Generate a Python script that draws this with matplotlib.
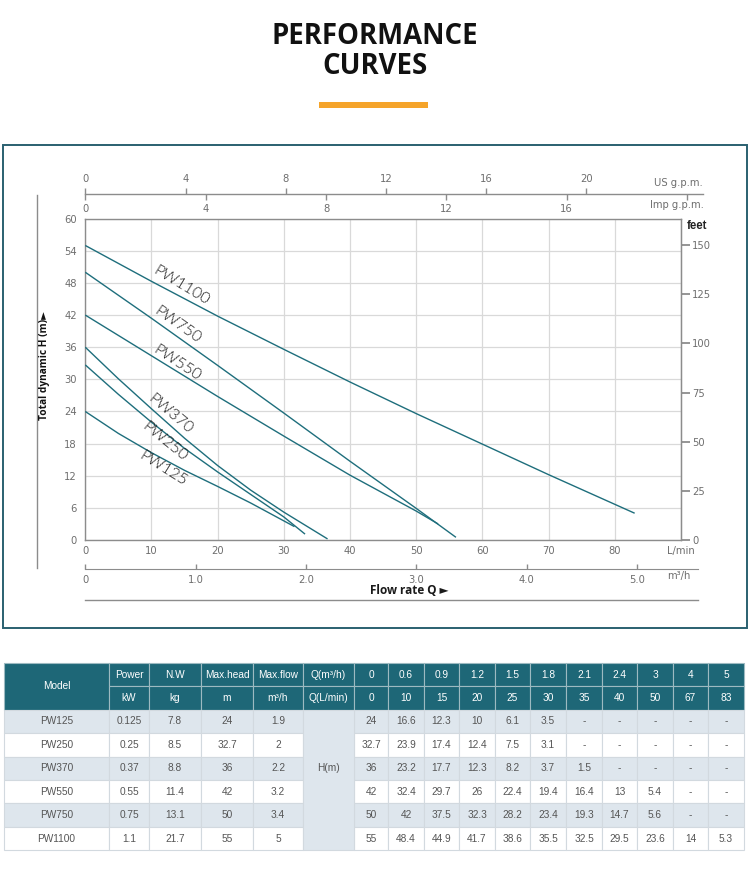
import matplotlib
matplotlib.use("Agg")
import matplotlib.pyplot as plt
from matplotlib.patches import Rectangle
from matplotlib import font_manager

# ---------------- data ----------------
models = ["PW125", "PW250", "PW370", "PW550", "PW750", "PW1100"]
power_kw = ["0.125", "0.25", "0.37", "0.55", "0.75", "1.1"]
net_weight = ["7.8", "8.5", "8.8", "11.4", "13.1", "21.7"]
max_head = ["24", "32.7", "36", "42", "50", "55"]
max_flow = ["1.9", "2", "2.2", "3.2", "3.4", "5"]
q_m3h = ["0", "0.6", "0.9", "1.2", "1.5", "1.8", "2.1", "2.4", "3", "4", "5"]
q_lmin = ["0", "10", "15", "20", "25", "30", "35", "40", "50", "67", "83"]
head_table = [
    ["24", "16.6", "12.3", "10", "6.1", "3.5", "-", "-", "-", "-", "-"],
    ["32.7", "23.9", "17.4", "12.4", "7.5", "3.1", "-", "-", "-", "-", "-"],
    ["36", "23.2", "17.7", "12.3", "8.2", "3.7", "1.5", "-", "-", "-", "-"],
    ["42", "32.4", "29.7", "26", "22.4", "19.4", "16.4", "13", "5.4", "-", "-"],
    ["50", "42", "37.5", "32.3", "28.2", "23.4", "19.3", "14.7", "5.6", "-", "-"],
    ["55", "48.4", "44.9", "41.7", "38.6", "35.5", "32.5", "29.5", "23.6", "14", "5.3"],
]

# performance curves (flow L/min, head m)
pw125_q = [0, 5, 10, 15, 20, 25, 31.6]
pw125_h = [24, 19.9, 16.3, 13.0, 10.0, 6.9, 2.5]
pw250_q = [0, 5, 10, 15, 20, 25, 30, 33.2]
pw250_h = [32.7, 27.2, 22.0, 17.1, 12.7, 8.5, 4.3, 1.1]
pw370_q = [0, 5, 10, 15, 20, 25, 30, 36.6]
pw370_h = [36, 30.1, 24.5, 19.0, 13.9, 9.3, 5.2, 0.2]
pw550_q = [0, 10, 20, 30, 40, 50, 53.3]
pw550_h = [42, 34.4, 26.8, 19.4, 12.1, 5.4, 3.0]
pw750_q = [0, 10, 20, 30, 40, 50, 56]
pw750_h = [50, 41.4, 32.6, 23.7, 14.7, 5.9, 0.5]
pw1100_q = [0, 10, 20, 30, 40, 50, 60, 70, 83]
pw1100_h = [55, 48.3, 41.8, 35.6, 29.5, 23.6, 17.9, 12.2, 5.0]

curves = [
    ("PW1100", pw1100_q, pw1100_h),
    ("PW750", pw750_q, pw750_h),
    ("PW550", pw550_q, pw550_h),
    ("PW370", pw370_q, pw370_h),
    ("PW250", pw250_q, pw250_h),
    ("PW125", pw125_q, pw125_h),
]

# axis scales
lmin_ticks = [0, 10, 20, 30, 40, 50, 60, 70, 80]
head_ticks = [0, 6, 12, 18, 24, 30, 36, 42, 48, 54, 60]
feet_ticks = [0, 25, 50, 75, 100, 125, 150]
feet_top = 163.5          # feet value at the 60 m line, as drawn
us_ticks = [0, 4, 8, 12, 16, 20]
imp_ticks = [0, 4, 8, 12, 16, 20]
m3h_ticks = [0, 1, 2, 3, 4, 5]
m3h_labels = ["0", "1.0", "2.0", "3.0", "4.0", "5.0"]
LMIN_PER_USGPM = 3.785
LMIN_PER_IMPGPM = 4.546
LMIN_PER_M3H = 16.667

# ---------------- fonts ----------------
avail = {f.name for f in font_manager.fontManager.ttflist}
def pick(*names):
    for n in names:
        if n in avail:
            return n
    return "DejaVu Sans"

NARROW = pick("Liberation Sans Narrow", "Open Sans", "Roboto", "Liberation Sans")
ARIAL = pick("Liberation Sans", "Arimo", "DejaVu Sans")
THIN = pick("Lato", "Roboto", "Open Sans", "DejaVu Sans")
TICKF = "DejaVu Sans"

# ---------------- layout (pixels) ----------------
W, H = 750, 882
fig = plt.figure(figsize=(W / 100, H / 100), dpi=100)
fig.patch.set_facecolor("white")

def fx(x):
    return x / W

def fy(y):
    return 1 - y / H

bg = fig.add_axes([0, 0, 1, 1])
bg.set_xlim(0, W)
bg.set_ylim(H, 0)
bg.axis("off")

GREY = "#8C8C8C"
TXT = "#6E6E6E"

# title
title_size = 22 if NARROW == "Liberation Sans Narrow" else 19.8
bg.text(375, 37, "PERFORMANCE", ha="center", va="center", fontsize=title_size,
        fontweight="bold", family=[NARROW, "DejaVu Sans"], color="#111111")
bg.text(375, 66, "CURVES", ha="center", va="center", fontsize=title_size,
        fontweight="bold", family=[NARROW, "DejaVu Sans"], color="#111111")
bg.add_patch(Rectangle((319, 102), 109, 6, color="#F5A42A", lw=0))

# chart frame
bg.add_patch(Rectangle((3, 145), 744, 483, fill=False, edgecolor="#2A6070", lw=1.4))

# main plot area
X0, X1, YT, YB = 85.3, 681.0, 218.7, 540.0
ax = fig.add_axes([fx(X0), fy(YB), (X1 - X0) / W, (YB - YT) / H])
ax.set_xlim(0, 90)
ax.set_ylim(0, 60)
ax.set_xticks(lmin_ticks + [90])
ax.set_xticklabels([str(t) for t in lmin_ticks] + ["L/min"])
ax.set_yticks(head_ticks)
ax.set_yticklabels([str(t) for t in head_ticks])
ax.grid(True, color="#D9D9D9", lw=0.9)
ax.set_axisbelow(True)
for s in ax.spines.values():
    s.set_color(GREY)
    s.set_linewidth(1.0)
ax.tick_params(axis="both", length=0, labelsize=7.2, labelcolor=TXT)
ax.tick_params(axis="y", pad=6)
ax.tick_params(axis="x", pad=4)
for lab in ax.get_xticklabels() + ax.get_yticklabels():
    lab.set_family(TICKF)

for name, q, h in curves:
    ax.plot(q, h, color="#1E6E7C", lw=1.0, solid_capstyle="butt", zorder=3)

label_pos = {
    "PW1100": (14.5, 47.4, -31),
    "PW750": (13.9, 40.1, -35),
    "PW550": (13.8, 33.0, -33),
    "PW370": (12.9, 23.5, -40),
    "PW250": (12.0, 18.4, -39),
    "PW125": (11.8, 13.3, -32),
}
lab_font = THIN if THIN != "DejaVu Sans" else "DejaVu Sans"
lab_size = 11.5 if THIN == "Lato" else 10.5
for name, q, h in curves:
    lx, ly, rot = label_pos[name]
    ax.text(lx, ly, name, rotation=rot, ha="center", va="center",
            fontsize=lab_size, family=lab_font, fontweight=300, color="#1c1c1c",
            rotation_mode="anchor", zorder=4)

# feet axis on the right
ax2 = ax.twinx()
ax2.set_ylim(0, feet_top)
ax2.set_yticks(feet_ticks)
ax2.set_yticklabels([str(t) for t in feet_ticks])
for k in ["left", "top", "bottom"]:
    ax2.spines[k].set_visible(False)
ax2.spines["right"].set_color(GREY)
ax2.tick_params(axis="y", direction="out", length=6.5, width=1.3, color=GREY,
                labelsize=7.2, labelcolor=TXT, pad=1.5)
bg.text(697, 226, "feet", ha="center", va="center", fontsize=8.3, fontweight="bold",
        family=[ARIAL], color="#222222")

# top scales: US g.p.m. (ticks up) / Imp g.p.m. (ticks down)
XT_END = 703.0
lmin_top = (XT_END - X0) / (X1 - X0) * 90
ax_us = fig.add_axes([fx(X0), fy(194), (XT_END - X0) / W, 1e-5])
ax_us.set_xlim(0, lmin_top / LMIN_PER_USGPM)
ax_us.patch.set_visible(False)
for k in ["left", "right", "bottom"]:
    ax_us.spines[k].set_visible(False)
ax_us.spines["top"].set_color(GREY)
ax_us.spines["top"].set_linewidth(1.0)
ax_us.set_yticks([])
ax_us.xaxis.set_ticks_position("top")
ax_us.set_xticks(us_ticks)
ax_us.set_xticklabels([str(t) for t in us_ticks])
ax_us.tick_params(axis="x", direction="out", length=4, width=1.0, color=GREY,
                  labelsize=7.2, labelcolor=TXT, pad=3)

ax_imp = fig.add_axes([fx(X0), fy(194), (XT_END - X0) / W, 1e-5])
ax_imp.set_xlim(0, lmin_top / LMIN_PER_IMPGPM)
ax_imp.patch.set_visible(False)
for s in ax_imp.spines.values():
    s.set_visible(False)
ax_imp.set_yticks([])
ax_imp.set_xticks(imp_ticks)
ax_imp.set_xticklabels([str(t) for t in imp_ticks[:-1]] + [""])
ax_imp.tick_params(axis="x", direction="out", length=4, width=1.0, color=GREY,
                   labelsize=7.2, labelcolor=TXT, pad=3)
bg.text(703, 183, "US g.p.m.", ha="right", va="center", fontsize=7.2,
        family=TICKF, color=TXT)
bg.text(704, 205.5, "Imp g.p.m.", ha="right", va="center", fontsize=7.2,
        family=TICKF, color=TXT)

# bottom m3/h scale
XB_END = 698.0
lmin_bot = (XB_END - X0) / (X1 - X0) * 90
ax_m3 = fig.add_axes([fx(X0), fy(569), (XB_END - X0) / W, 1e-5])
ax_m3.set_xlim(0, lmin_bot / LMIN_PER_M3H)
ax_m3.patch.set_visible(False)
for k in ["left", "right", "top"]:
    ax_m3.spines[k].set_visible(False)
ax_m3.spines["bottom"].set_color(GREY)
ax_m3.set_yticks([])
ax_m3.set_xticks(m3h_ticks)
ax_m3.set_xticklabels(m3h_labels)
ax_m3.tick_params(axis="x", direction="in", length=3.5, width=1.0, color=GREY,
                  labelsize=7.2, labelcolor=TXT, pad=4)
for lab in ax_m3.get_xticklabels() + ax_us.get_xticklabels() + ax_imp.get_xticklabels() \
        + ax2.get_yticklabels():
    lab.set_family(TICKF)
bg.text(679, 576, "m\u00b3/h", ha="center", va="center", fontsize=7.2,
        family=TICKF, color=TXT)

# extra lines
bg.plot([X0, XB_END], [600, 600], color=GREY, lw=1.0)
bg.plot([37, 37], [195, 568], color=GREY, lw=1.0)

# axis titles
bg.text(45, 366, "Total dynamic H (m)\u25ba", rotation=90, ha="center", va="center",
        fontsize=7.3, fontweight="bold", family=[NARROW, "DejaVu Sans"], color="#111111")
bg.text(409, 591, "Flow rate Q \u25ba", ha="center", va="center",
        fontsize=8.5, fontweight="bold", family=[NARROW, "DejaVu Sans"], color="#1a1a1a")

# ---------------- table ----------------
col_edges = [4, 109, 149, 201, 253, 303, 354, 388, 424, 459, 495, 530, 566, 602, 637, 673, 708, 744]
row_top = 663.0
row_h = 23.4
HDR = "#1E6777"
HDR_LINE = "#9DBAC1"
LIGHT = "#DEE6ED"
LINE = "#D2D9DF"
BODY_TXT = "#555555"
FS = 7.3

def cell(c0, c1, r0, r1, text, face, edge, color, lw=0.8):
    x0 = col_edges[c0]
    x1 = col_edges[c1]
    y0 = row_top + r0 * row_h
    y1 = row_top + r1 * row_h
    bg.add_patch(Rectangle((x0, y0), x1 - x0, y1 - y0, facecolor=face,
                           edgecolor=edge, lw=lw))
    if text:
        bg.text((x0 + x1) / 2, (y0 + y1) / 2, text, ha="center", va="center",
                fontsize=FS, family=[ARIAL, "DejaVu Sans"], color=color)

# header
cell(0, 1, 0, 2, "Model", HDR, HDR_LINE, "white")
hdr1 = ["Power", "N.W", "Max.head", "Max.flow", "Q(m\u00b3/h)"]
hdr2 = ["kW", "kg", "m", "m\u00b3/h", "Q(L/min)"]
for i, (a, b) in enumerate(zip(hdr1, hdr2)):
    cell(1 + i, 2 + i, 0, 1, a, HDR, HDR_LINE, "white")
    cell(1 + i, 2 + i, 1, 2, b, HDR, HDR_LINE, "white")
for j, (a, b) in enumerate(zip(q_m3h, q_lmin)):
    cell(6 + j, 7 + j, 0, 1, a, HDR, HDR_LINE, "white")
    cell(6 + j, 7 + j, 1, 2, b, HDR, HDR_LINE, "white")

# body
for r in range(len(models)):
    face = LIGHT if r % 2 == 0 else "white"
    rr = 2 + r
    vals = [models[r], power_kw[r], net_weight[r], max_head[r], max_flow[r]]
    for c, v in enumerate(vals):
        cell(c, c + 1, rr, rr + 1, v, face, LINE, BODY_TXT)
    for j, v in enumerate(head_table[r]):
        cell(6 + j, 7 + j, rr, rr + 1, v, face, LINE, BODY_TXT)
# merged H(m) cell
x0, x1 = col_edges[5], col_edges[6]
y0 = row_top + 2 * row_h
y1 = row_top + 8 * row_h
bg.add_patch(Rectangle((x0, y0), x1 - x0, y1 - y0, facecolor=LIGHT, edgecolor=LINE, lw=0.8))
bg.text((x0 + x1) / 2, row_top + 4.5 * row_h, "H(m)", ha="center", va="center",
        fontsize=FS, family=[ARIAL, "DejaVu Sans"], color=BODY_TXT)

fig.savefig("out.png", dpi=100, facecolor="white")
